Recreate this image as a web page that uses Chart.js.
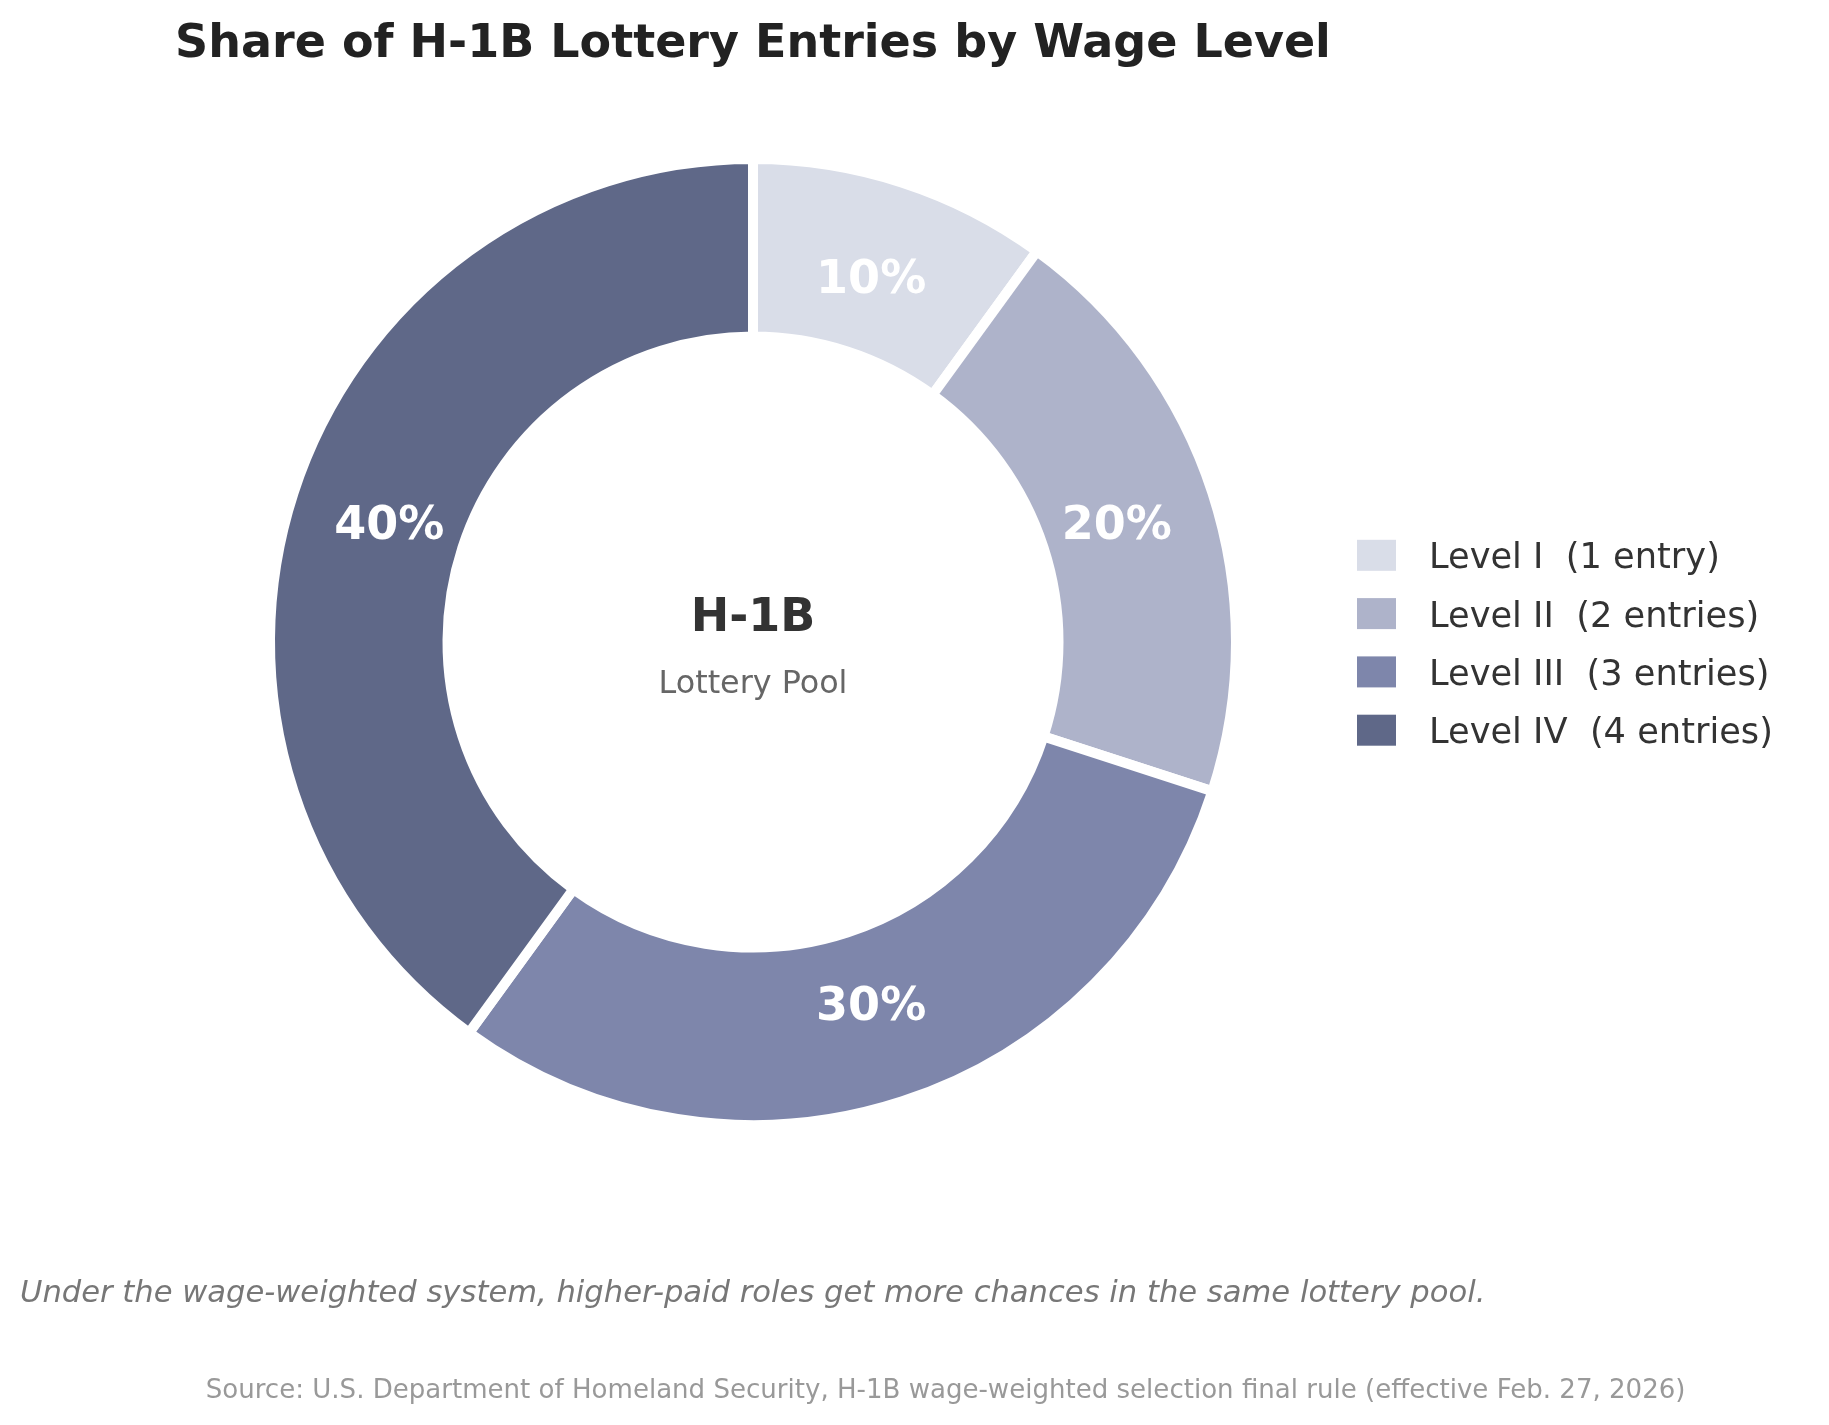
<!DOCTYPE html>
<html>
<head>
<meta charset="utf-8">
<script src="https://cdn.jsdelivr.net/npm/chart.js@4.4.1/dist/chart.umd.min.js"></script>
<style>
  html, body { margin: 0; padding: 0; background: #ffffff; }
  #wrap { position: relative; width: 1829px; height: 1425px; }
</style>
</head>
<body>
<div id="wrap"><canvas id="c"></canvas></div>
<script>
// ---- data ----
const categories = ['Level I  (1 entry)', 'Level II  (2 entries)', 'Level III  (3 entries)', 'Level IV  (4 entries)'];
const shares = [10, 20, 30, 40];
const sliceColors = ['#d9dde8', '#aeb3ca', '#7e86ab', '#5f6888'];
const titleText = 'Share of H-1B Lottery Entries by Wage Level';
const centerTitle = 'H-1B';
const centerSub = 'Lottery Pool';
const noteText = 'Under the wage-weighted system, higher-paid roles get more chances in the same lottery pool.';
const sourceText = 'Source: U.S. Department of Homeland Security, H-1B wage-weighted selection final rule (effective Feb. 27, 2026)';

const FONT = '"DejaVu Sans", "Liberation Sans", sans-serif';
const LABEL_DIST = 0.8;
const BORDER_W = 10;

const annotate = {
  id: 'annotate',
  afterDatasetsDraw(chart) {
    const ctx = chart.ctx;
    const meta = chart.getDatasetMeta(0);
    ctx.save();
    // percentage labels
    const lf = 46;
    ctx.font = 'bold ' + lf + 'px ' + FONT;
    ctx.fillStyle = '#ffffff';
    ctx.textAlign = 'center';
    ctx.textBaseline = 'alphabetic';
    meta.data.forEach((arc, i) => {
      const p = arc.getProps(['x', 'y', 'startAngle', 'endAngle', 'outerRadius'], true);
      const mid = (p.startAngle + p.endAngle) / 2;
      const r = (p.outerRadius - BORDER_W / 2) * LABEL_DIST;
      const lx = p.x + Math.cos(mid) * r;
      const ly = p.y + Math.sin(mid) * r;
      ctx.fillText(shares[i] + '%', lx, ly + 0.729 * lf / 2 - 2);
    });
    // center text
    const c = meta.data[0].getProps(['x', 'y'], true);
    ctx.fillStyle = '#333333';
    ctx.font = 'bold 46px ' + FONT;
    ctx.fillText(centerTitle, c.x, c.y - 11);
    ctx.fillStyle = '#666666';
    ctx.font = '31.8px ' + FONT;
    ctx.fillText(centerSub, c.x, c.y + 51);
    // title
    ctx.fillStyle = '#222222';
    ctx.font = 'bold 46px ' + FONT;
    ctx.fillText(titleText, c.x, 57);
    // legend
    const lx0 = 1357, sw = 39, sh = 31, rowY0 = 555.3, rowStep = 58.3;
    ctx.textAlign = 'left';
    ctx.font = '35.2px ' + FONT;
    categories.forEach((lab, i) => {
      const cy = rowY0 + i * rowStep;
      ctx.fillStyle = sliceColors[i];
      ctx.fillRect(lx0, cy - sh / 2, sw, sh);
      ctx.fillStyle = '#333333';
      ctx.fillText(lab, 1429, cy + 13);
    });
    // footnotes
    ctx.fillStyle = '#777777';
    ctx.font = 'italic 30.6px ' + FONT;
    ctx.fillText(noteText, 20, 1302);
    ctx.fillStyle = '#999999';
    ctx.font = '26.05px ' + FONT;
    ctx.textAlign = 'right';
    ctx.fillText(sourceText, 1685.5, 1398);
    ctx.restore();
  }
};

new Chart(document.getElementById('c'), {
  type: 'doughnut',
  data: {
    labels: categories,
    datasets: [{
      data: shares,
      backgroundColor: sliceColors,
      borderColor: '#ffffff',
      borderWidth: BORDER_W,
      radius: 483,
      hoverOffset: 0
    }]
  },
  options: {
    responsive: true,
    maintainAspectRatio: false,
    animation: false,
    cutout: '63.25%',
    layout: { padding: { left: 0, right: 323, top: 0, bottom: 141 } },
    plugins: {
      legend: { display: false },
      title: { display: false },
      tooltip: { enabled: false }
    }
  },
  plugins: [annotate]
});
</script>
</body>
</html>
